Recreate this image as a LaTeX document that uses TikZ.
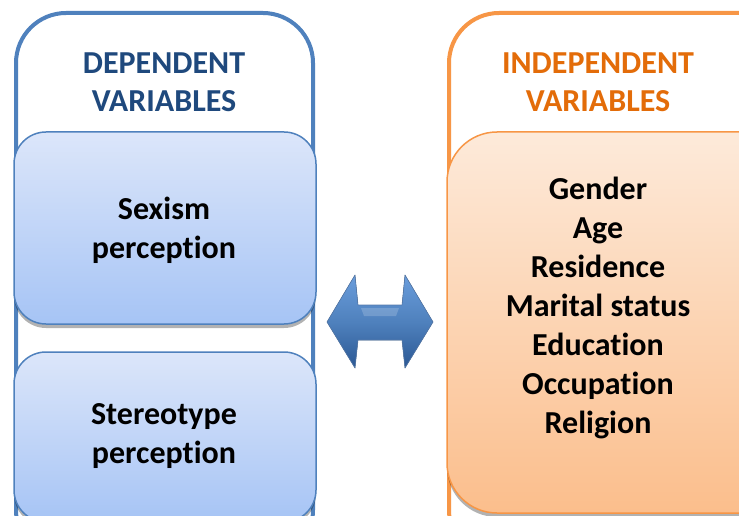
\documentclass[tikz,border=0pt]{standalone}
\usepackage{fontspec}
\setmainfont{Carlito}[Ligatures=NoCommon]
\usetikzlibrary{shadows}
\definecolor{bline}{HTML}{4F81BD}
\definecolor{bhead}{HTML}{1F497D}
\definecolor{oline}{HTML}{F79646}
\definecolor{ohead}{HTML}{E36C09}
\definecolor{btop}{HTML}{DCE6FA}
\definecolor{bbot}{HTML}{A6C4F5}
\definecolor{otop}{HTML}{FDEADA}
\definecolor{obot}{HTML}{FBBE8C}
\definecolor{atop}{HTML}{6A9DDC}
\definecolor{amid}{HTML}{4F81BD}
\definecolor{abot}{HTML}{2B5894}
\tikzset{
  outerbox/.style={line width=4pt, fill=white, rounded corners=50pt, inner sep=0pt},
  innerbox/.style={line width=1.5pt, inner sep=0pt,
    drop shadow={shadow xshift=0pt, shadow yshift=-4pt, opacity=0.3, fill=black}},
  bluebox/.style={innerbox, draw=bline, top color=btop, bottom color=bbot},
  orangebox/.style={innerbox, draw=oline, top color=otop, bottom color=obot},
  headtext/.style={font=\bfseries\fontsize{32}{38}\selectfont, align=center, inner sep=0pt},
  bodytext/.style={font=\bfseries\fontsize{32}{39}\selectfont, align=center, inner sep=0pt, text=black},
}
\begin{document}
\begin{tikzpicture}[x=1pt,y=1pt]
\useasboundingbox (0,0) rectangle (739,515);
\clip (0,0) rectangle (739,515);
% outer boxes
\node[outerbox, draw=bline, minimum width=297pt, minimum height=547pt] (lout) at (164.5,228.5) {};
\node[outerbox, draw=oline, minimum width=351pt, minimum height=547pt] (rout) at (624.5,228.5) {};
% inner boxes
\node[bluebox, rounded corners=32pt, minimum width=302pt, minimum height=192pt] (sex) at (165,287) {};
\node[bluebox, rounded corners=32pt, minimum width=302pt, minimum height=170pt] (ster) at (165,78) {};
\node[orangebox, rounded corners=50pt, minimum width=353pt, minimum height=381pt] (indep) at (623.5,192.5) {};
% headings
\node[headtext, text=bhead] (dephead) at (164,433) {DEPENDENT\\VARIABLES};
\node[headtext, text=ohead] (indhead) at (598,433) {INDEPENDENT\\VARIABLES};
% body texts
\node[bodytext] (sextext) at (164,284.5) {Sexism\\perception};
\node[bodytext] (stertext) at (164,78.5) {Stereotype\\perception};
\node[bodytext] (indtext) at (598,207.5) {Gender\\Age\\Residence\\Marital status\\Education\\Occupation\\Religion};
% double arrow
\coordinate (ltip) at (327,193);
\coordinate (rtip) at (433,193);
\fill[top color=atop, bottom color=abot, middle color=amid, draw=abot!80, line width=0.6pt, line join=round]
  (ltip) -- (355,240) -- (358,210) -- (402,210) -- (405,240) -- (rtip)
  -- (405,147) -- (402,175) -- (358,175) -- (355,147) -- cycle;
\fill[white, opacity=0.18] (361,207) -- (399,207) -- (396,199) -- (364,199) -- cycle;
\end{tikzpicture}
\end{document}
